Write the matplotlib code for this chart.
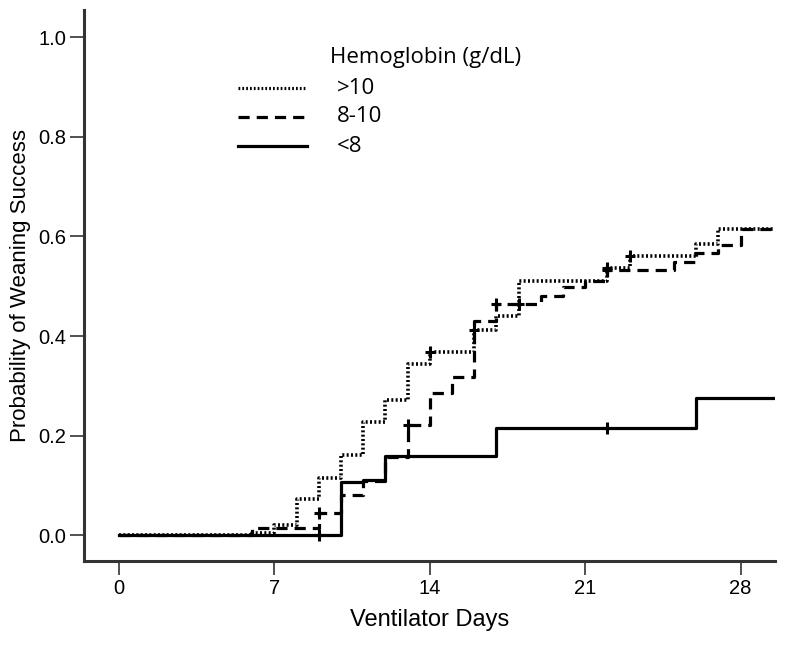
import numpy as np
import matplotlib.pyplot as plt
from matplotlib.lines import Line2D

# Kaplan-Meier style step data (day, cumulative probability)
days_hi = [0, 6, 7, 8, 9, 10, 11, 12, 13, 14, 16, 17, 18, 21, 22, 23, 26, 27, 29.6]
prob_hi = [0, 0.005, 0.02, 0.072, 0.115, 0.162, 0.228, 0.272, 0.343, 0.367, 0.413, 0.440, 0.511, 0.511, 0.536, 0.561, 0.585, 0.614, 0.614]

days_mid = [0, 6, 9, 10, 11, 12, 13, 14, 15, 16, 17, 19, 20, 21, 22, 25, 26, 27, 28, 29.6]
prob_mid = [0, 0.015, 0.045, 0.08, 0.108, 0.158, 0.222, 0.285, 0.317, 0.430, 0.465, 0.480, 0.498, 0.510, 0.532, 0.548, 0.566, 0.582, 0.614, 0.614]

days_lo = [0, 10, 11, 12, 17, 26, 29.6]
prob_lo = [0, 0.106, 0.110, 0.159, 0.215, 0.275, 0.275]

# censored observations
cens_hi_x = [14, 16, 22, 23]
cens_hi_y = [0.367, 0.413, 0.536, 0.561]
cens_mid_x = [9, 13, 17, 18, 22]
cens_mid_y = [0.045, 0.222, 0.465, 0.465, 0.532]
cens_lo_x = [9, 22]
cens_lo_y = [0.0, 0.215]

plt.rcParams['font.family'] = ['Liberation Sans', 'DejaVu Sans']

fig = plt.figure(figsize=(7.86, 6.45), dpi=100)
ax = fig.add_axes([0.1069, 0.130, 0.879, 0.854])

lw = 2.3
dot_ls = (0, (0.55, 0.65))
dash_ls = (0, (3.5, 2.2))
ax.step(days_hi, prob_hi, where='post', color='black', lw=lw + 0.3, ls=dot_ls)
ax.step(days_mid, prob_mid, where='post', color='black', lw=lw, ls=dash_ls)
ax.step(days_lo, prob_lo, where='post', color='black', lw=lw, ls='-')

for cx, cy in [(cens_hi_x, cens_hi_y), (cens_mid_x, cens_mid_y), (cens_lo_x, cens_lo_y)]:
    ax.plot(cx, cy, ls='none', marker='|', ms=9, mew=2.2, color='black')
    ax.plot(cx, cy, ls='none', marker='_', ms=7, mew=2.2, color='black')

ax.set_xlim(-1.58, 29.55)
ax.set_ylim(-0.052, 1.054)
ax.set_xticks([0, 7, 14, 21, 28])
ax.set_yticks([0.0, 0.2, 0.4, 0.6, 0.8, 1.0])
ax.set_yticklabels(['0.0', '0.2', '0.4', '0.6', '0.8', '1.0'])

for s in ['top', 'right']:
    ax.spines[s].set_visible(False)
for s in ['left', 'bottom']:
    ax.spines[s].set_linewidth(2.2)
    ax.spines[s].set_color('#333333')
ax.tick_params(direction='out', length=10, width=1.2, colors='#333333',
               labelsize=14.5, labelcolor='black', pad=3)

ax.set_xlabel('Ventilator Days', fontsize=17, labelpad=8)
ax.set_ylabel('Probability of Weaning Success', fontsize=16, labelpad=5)

# legend drawn by hand
lfont = ['Open Sans', 'DejaVu Sans']
fig.text(330 / 786, 1 - 57 / 645, 'Hemoglobin (g/dL)', fontsize=16, family=lfont, va='center')
entries = [('>10', dot_ls), ('8-10', dash_ls), ('<8', '-')]
for i, (lab, ls) in enumerate(entries):
    yy = 1 - (88 + 29 * i) / 645
    fig.add_artist(Line2D([238 / 786, 307 / 786], [yy, yy], transform=fig.transFigure,
                          color='black', lw=lw, ls=ls))
    fig.text(337 / 786, yy, lab, fontsize=16, family=lfont, va='center')

fig.savefig('out.png', dpi=100)
